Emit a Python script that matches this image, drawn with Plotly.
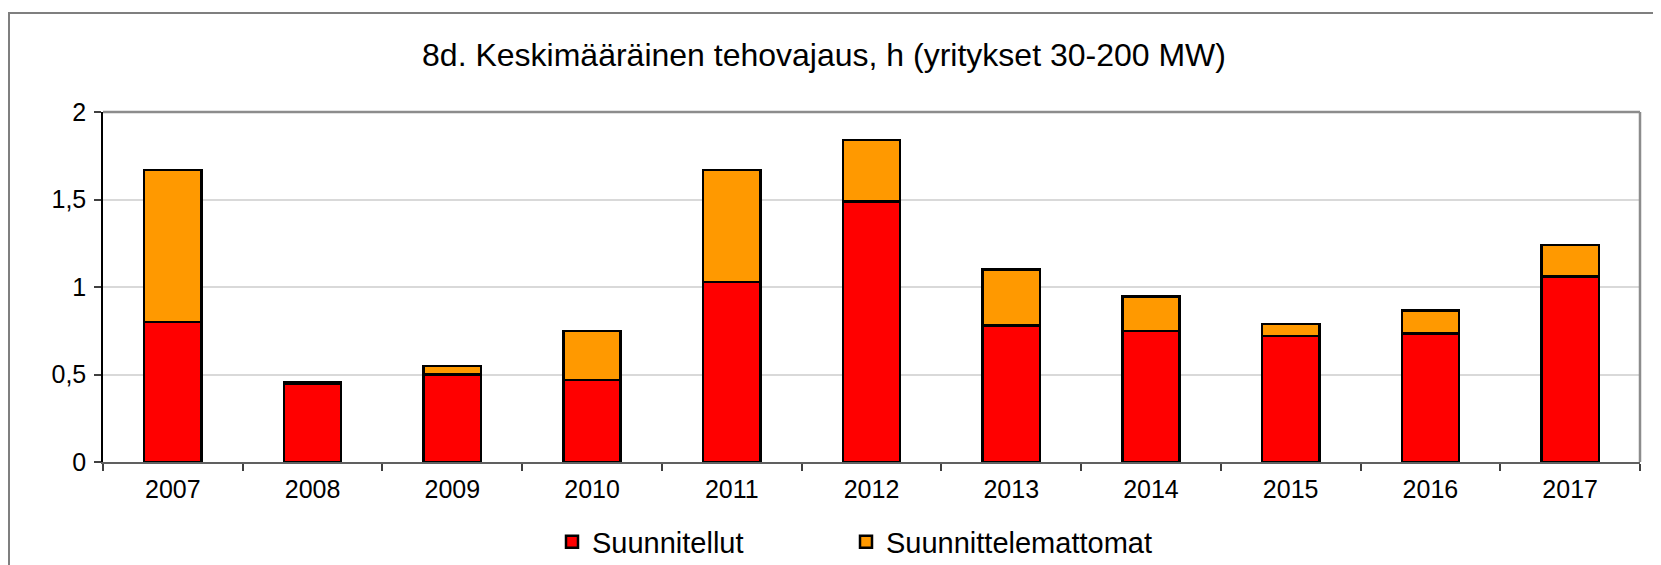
import plotly.graph_objects as go

years = ["2007", "2008", "2009", "2010", "2011", "2012", "2013", "2014", "2015", "2016", "2017"]
suunnitellut = [0.80, 0.45, 0.50, 0.47, 1.03, 1.49, 0.78, 0.75, 0.72, 0.735, 1.06]
suunnittelemattomat = [0.87, 0.005, 0.05, 0.28, 0.64, 0.35, 0.32, 0.195, 0.07, 0.13, 0.18]

title_text = "8d. Keskimääräinen tehovajaus, h (yritykset 30-200 MW)"
font_family = "Liberation Sans, Arial, sans-serif"

fig = go.Figure()
fig.add_trace(go.Bar(
    x=years, y=suunnitellut, name="Suunnitellut", legend="legend",
    marker=dict(color="#ff0000", line=dict(color="#000000", width=2.5)),
))
fig.add_trace(go.Bar(
    x=years, y=suunnittelemattomat, name="Suunnittelemattomat", legend="legend2",
    marker=dict(color="#ff9900", line=dict(color="#000000", width=2.5)),
))

# page has an 8px body margin; work in page coordinates and convert
OFF = 8
PAGE_W, PAGE_H = 1661, 565
W, H = PAGE_W - OFF, PAGE_H - OFF
plot_l, plot_r, plot_t, plot_b = 103, 1640, 112, 462   # page coords of plot area
L = plot_l - OFF
T = plot_t - OFF
R = PAGE_W - plot_r
B = PAGE_H - plot_b
pw = plot_r - plot_l
ph = plot_b - plot_t

def px(x):
    return (x - plot_l) / pw

def py(y):
    return (plot_b - y) / ph

legend_common = dict(orientation="h", xanchor="left", y=py(542), yanchor="middle",
                     font=dict(size=29, family=font_family, color="#000000"),
                     bgcolor="rgba(0,0,0,0)")

fig.update_layout(
    width=W, height=H,
    barmode="stack", bargap=0.59,
    separators=", ",
    paper_bgcolor="white", plot_bgcolor="white",
    font=dict(family=font_family, color="#000000"),
    margin=dict(l=L, r=R, t=T, b=B, autoexpand=False),
    title=dict(text=title_text, x=(824 - OFF) / W, xanchor="center", y=1 - (55 - OFF) / H, yanchor="middle",
               font=dict(size=32, family=font_family, color="#000000")),
    showlegend=True,
    legend=dict(x=px(552), **legend_common),
    legend2=dict(x=px(846), **legend_common),
    xaxis=dict(
        type="category", showgrid=False, showline=True, linecolor="#606060", linewidth=2,
        ticks="outside", tickson="boundaries", ticklen=7, tickcolor="#404040", tickwidth=1.5,
        tickfont=dict(size=25, family=font_family, color="#000000"),
        ticklabelstandoff=4,
        zeroline=False,
    ),
    yaxis=dict(
        range=[0, 2], dtick=0.5, showgrid=True, gridcolor="#d9d9d9", gridwidth=1.5,
        showline=True, linecolor="#000000", linewidth=1.5,
        ticks="outside", ticklen=7, tickcolor="#404040", tickwidth=1.5,
        tickfont=dict(size=25, family=font_family, color="#000000"),
        ticklabelstandoff=3,
        zeroline=False,
    ),
    shapes=[
        dict(type="line", xref="paper", yref="paper", x0=0, x1=1, y0=1, y1=1,
             line=dict(color="#8c8c8c", width=2.5), layer="above"),
        dict(type="line", xref="paper", yref="paper", x0=1, x1=1, y0=0, y1=1,
             line=dict(color="#8c8c8c", width=2.5), layer="above"),
        dict(type="rect", xref="paper", yref="paper",
             x0=px(9), x1=px(1680), y0=py(600), y1=py(13),
             line=dict(color="#7f7f7f", width=2), layer="below"),
    ],
)

fig.write_html("out.html")
